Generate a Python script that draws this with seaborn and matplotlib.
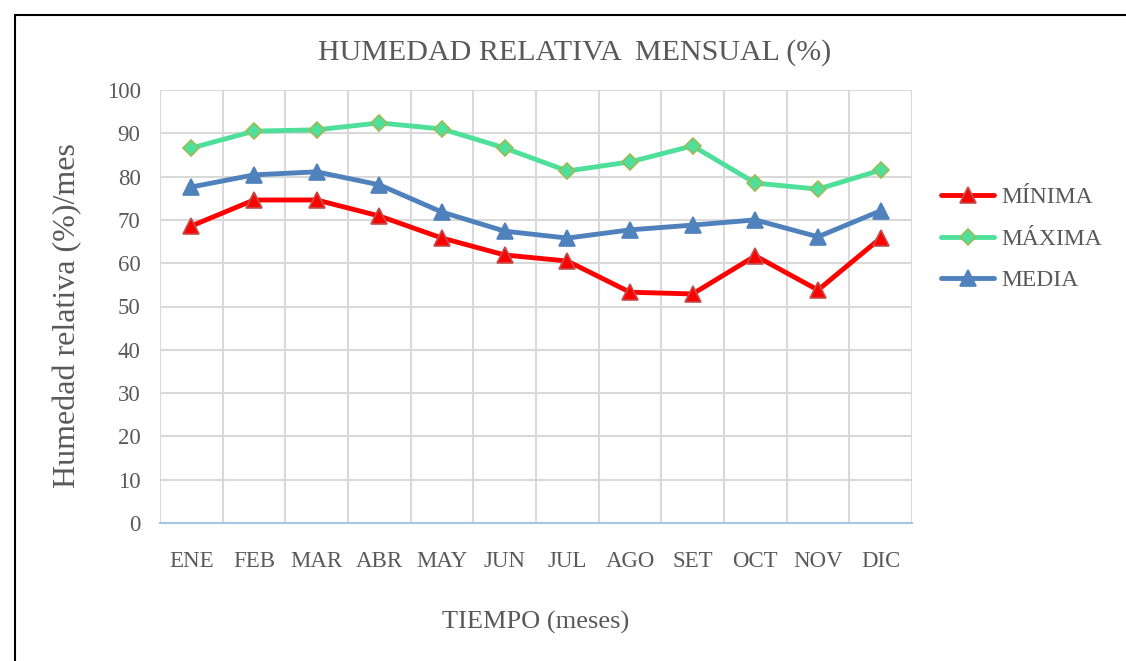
import numpy as np
import pandas as pd
import matplotlib
matplotlib.use("Agg")
import matplotlib.pyplot as plt
import seaborn as sns
from matplotlib.patches import Rectangle
from matplotlib.ticker import MultipleLocator, FixedLocator

meses = ["ENE", "FEB", "MAR", "ABR", "MAY", "JUN", "JUL", "AGO", "SET", "OCT", "NOV", "DIC"]
minima = [68.6, 74.6, 74.6, 70.9, 65.8, 61.9, 60.5, 53.3, 52.9, 61.7, 53.8, 65.8]
maxima = [86.6, 90.5, 90.8, 92.4, 91.0, 86.6, 81.3, 83.4, 87.1, 78.5, 77.1, 81.5]
media = [77.6, 80.4, 81.1, 78.1, 71.8, 67.4, 65.8, 67.7, 68.8, 70.0, 66.1, 72.1]

sns.set_style("white")
plt.rcParams['font.family'] = ['Liberation Serif', 'DejaVu Serif']
GREY = '#595959'

df = pd.DataFrame({'mes': meses, 'MÍNIMA': minima, 'MÁXIMA': maxima, 'MEDIA': media})

fig = plt.figure(figsize=(11.26, 6.61), dpi=100)
ax = fig.add_axes([160 / 1126, 1 - 523 / 661, 752 / 1126, 433 / 661])

# series: (column, color, marker, edge color)
series = [
    ('MÍNIMA', '#ff0000', '^', '#c0504d'),
    ('MÁXIMA', '#4ee09a', 'D', '#9bbb59'),
    ('MEDIA', '#4f81bd', '^', '#4f81bd'),
]
for col, color, mk, ec in series:
    sns.lineplot(data=df, x='mes', y=col, ax=ax, color=color, linewidth=3.5,
                 marker=mk, markersize=11 if mk == '^' else 8.5,
                 markeredgecolor=ec, markeredgewidth=1.2, label=col, legend=False)

ax.set_xlim(-0.5, 11.5)
ax.set_ylim(0, 100)
ax.yaxis.set_major_locator(MultipleLocator(10))
ax.xaxis.set_minor_locator(FixedLocator(np.arange(-0.5, 12, 1)))
ax.grid(axis='y', which='major', color='#d9d9d9', linewidth=1.5)
ax.grid(axis='x', which='minor', color='#d9d9d9', linewidth=1.5)
ax.grid(axis='x', which='major', visible=False)
ax.set_axisbelow(True)
for s in ['top', 'right', 'left']:
    ax.spines[s].set_visible(False)
ax.spines['bottom'].set_color('#a9c4eb')
ax.spines['bottom'].set_linewidth(1.5)
ax.tick_params(axis='both', which='both', length=0, labelsize=16.5, colors=GREY)
ax.tick_params(axis='x', pad=20)
ax.tick_params(axis='y', pad=14)

ax.set_xlabel('TIEMPO (meses)', fontsize=19, color=GREY, labelpad=28)
ax.set_ylabel('Humedad relativa (%)/mes', fontsize=23, color=GREY)
ax.yaxis.set_label_coords(-0.104, 0.48)
fig.text(575 / 1126, 1 - 53 / 661, 'HUMEDAD RELATIVA  MENSUAL (%)', fontsize=21.6,
         color=GREY, ha='center', va='center')

handles, labels = ax.get_legend_handles_labels()
leg = fig.legend(handles, labels, loc='center left', bbox_to_anchor=(920 / 1126, 1 - 239 / 661),
                 frameon=False, fontsize=17, labelcolor=GREY, handlelength=2.25,
                 handletextpad=0.3, labelspacing=0.84)

# chart frame
fig.patches.append(Rectangle((15 / 1126, -0.1), 1.2, 1.1 - 15 / 661,
                             transform=fig.transFigure, fill=False,
                             edgecolor='black', linewidth=1.5))

fig.savefig('out.png', dpi=100)
